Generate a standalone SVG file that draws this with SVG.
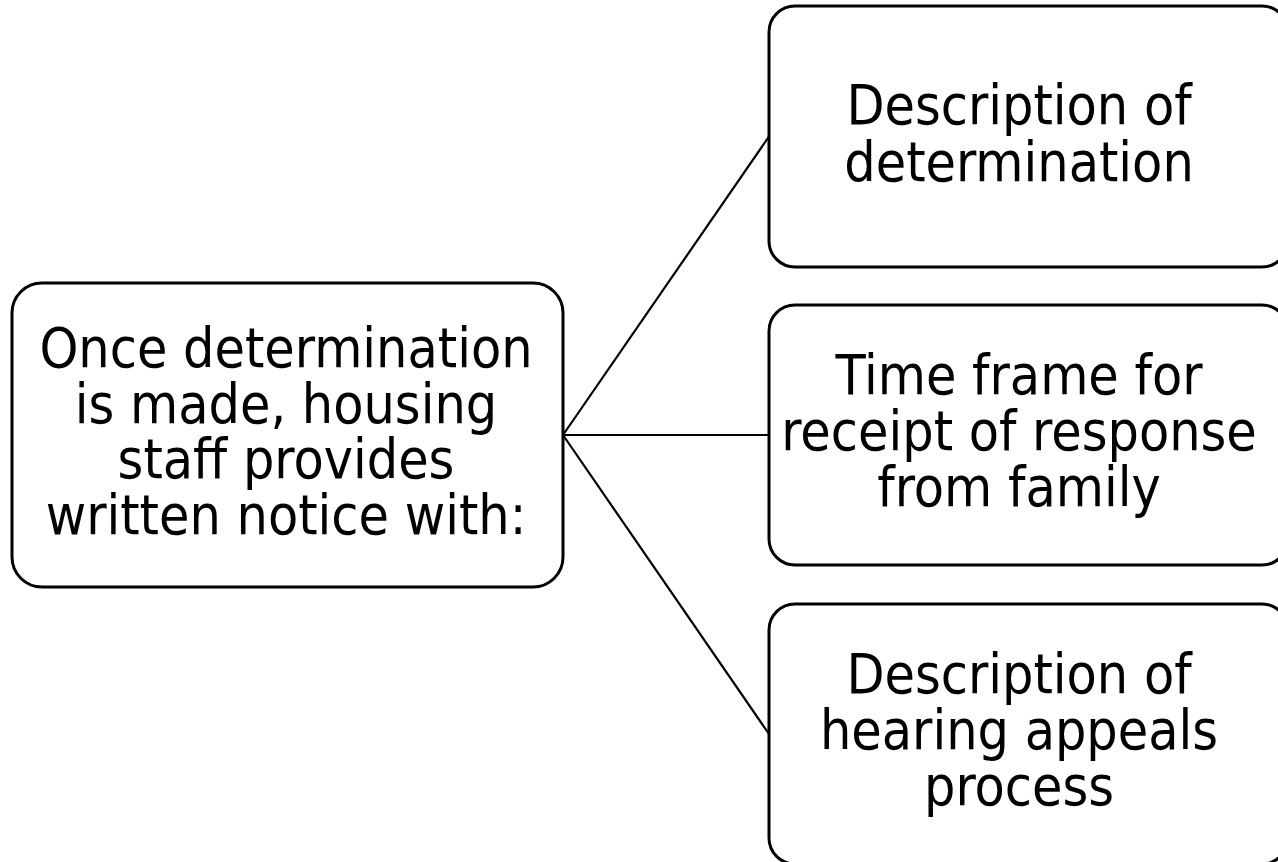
<svg xmlns="http://www.w3.org/2000/svg" width="1278" height="862" viewBox="0 0 1278 862">
<style>
.box{fill:#fff;stroke:#000;stroke-width:3}
.con{fill:none;stroke:#000;stroke-width:2.2}
.t{font-family:'DejaVu Sans Condensed','DejaVu Sans',sans-serif;font-stretch:condensed;font-size:55px;fill:#000;text-anchor:middle}
</style>
<rect width="1278" height="862" fill="#fff"/>
<g id="connectors">
<line class="con" x1="563" y1="435" x2="769" y2="136.5"/>
<line class="con" x1="563" y1="435" x2="769" y2="435"/>
<line class="con" x1="563" y1="435" x2="769" y2="734"/>
</g>
<g id="node-root">
<rect class="box" x="12" y="283" width="551" height="304" rx="30" ry="30"/>
<text class="t" x="286" y="367">Once determination</text>
<text class="t" x="286" y="423">is made, housing</text>
<text class="t" x="286" y="478">staff provides</text>
<text class="t" x="286" y="534">written notice with:</text>
</g>
<g id="node-description">
<rect class="box" x="769" y="6" width="519" height="261" rx="26" ry="26"/>
<text class="t" x="1019" y="124">Description of</text>
<text class="t" x="1019" y="181">determination</text>
</g>
<g id="node-timeframe">
<rect class="box" x="769" y="305" width="519" height="260" rx="26" ry="26"/>
<text class="t" x="1019" y="394">Time frame for</text>
<text class="t" x="1019" y="450">receipt of response</text>
<text class="t" x="1019" y="506">from family</text>
</g>
<g id="node-appeals">
<rect class="box" x="769" y="604" width="519" height="260" rx="26" ry="26"/>
<text class="t" x="1019" y="693">Description of</text>
<text class="t" x="1019" y="749">hearing appeals</text>
<text class="t" x="1019" y="805">process</text>
</g>
</svg>
